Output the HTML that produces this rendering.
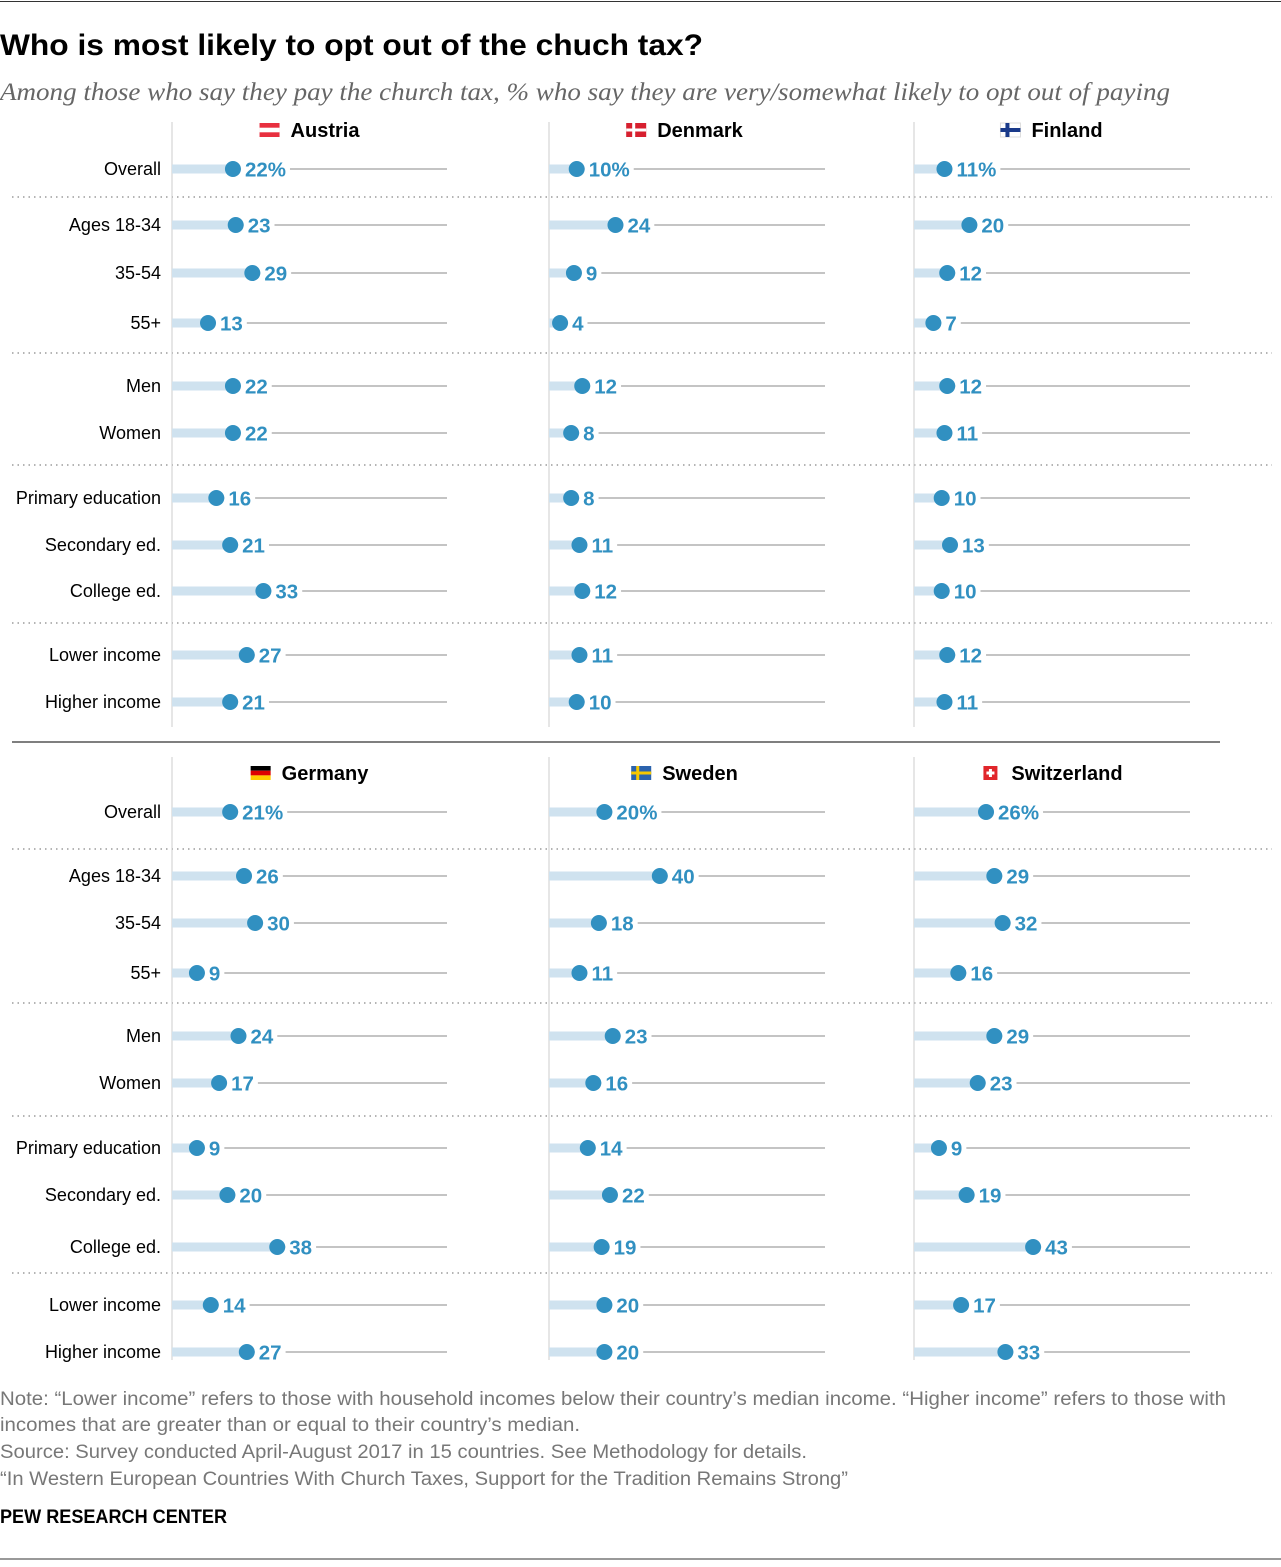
<!DOCTYPE html>
<html><head><meta charset="utf-8">
<style>
body{margin:0;background:#fff;width:1281px;height:1562px;overflow:hidden;font-family:"Liberation Sans",sans-serif;}
</style></head>
<body>
<svg id="chart" width="1281" height="1562" xmlns="http://www.w3.org/2000/svg" font-family="Liberation Sans, sans-serif">
<line x1="0" y1="1.5" x2="1281" y2="1.5" stroke="#333" stroke-width="1"/>
<text x="0" y="55" font-size="30" font-weight="bold" fill="#000" textLength="703" lengthAdjust="spacingAndGlyphs">Who is most likely to opt out of the chuch tax?</text>
<text x="0" y="100" font-size="25" font-style="italic" font-family="Liberation Serif, serif" fill="#666" textLength="1170" lengthAdjust="spacingAndGlyphs">Among those who say they pay the church tax, % who say they are very/somewhat likely to opt out of paying</text>
<g id="plot"></g>
<line x1="12" y1="742" x2="1220" y2="742" stroke="#555" stroke-width="1.5"/>
<g font-size="19" fill="#777">
<text x="0" y="1405" textLength="1226" lengthAdjust="spacingAndGlyphs">Note: “Lower income” refers to those with household incomes below their country’s median income. “Higher income” refers to those with</text>
<text x="0" y="1431" textLength="580" lengthAdjust="spacingAndGlyphs">incomes that are greater than or equal to their country’s median.</text>
<text x="0" y="1458" textLength="807" lengthAdjust="spacingAndGlyphs">Source: Survey conducted April-August 2017 in 15 countries. See Methodology for details.</text>
<text x="0" y="1485" textLength="848" lengthAdjust="spacingAndGlyphs">“In Western European Countries With Church Taxes, Support for the Tradition Remains Strong”</text>
</g>
<text x="0" y="1523" font-size="19" font-weight="bold" fill="#000" textLength="227" lengthAdjust="spacingAndGlyphs">PEW RESEARCH CENTER</text>
<line x1="0" y1="1559" x2="1281" y2="1559" stroke="#333" stroke-width="1"/>
</svg>
<script>
const categories=["Overall","Ages 18-34","35-54","55+","Men","Women","Primary education","Secondary ed.","College ed.","Lower income","Higher income"];
const countries=["Austria","Denmark","Finland","Germany","Sweden","Switzerland"];
const austria=[22,23,29,13,22,22,16,21,33,27,21];
const denmark=[10,24,9,4,12,8,8,11,12,11,10];
const finland=[11,20,12,7,12,11,10,13,10,12,11];
const germany=[21,26,30,9,24,17,9,20,38,14,27];
const sweden=[20,40,18,11,23,16,14,22,19,20,20];
const switzerland=[26,29,32,16,29,23,9,19,43,17,33];
const seriesList=[austria,denmark,finland,germany,sweden,switzerland];

const NS="http://www.w3.org/2000/svg";
const plot=document.getElementById('plot');
function mk(tag,attrs,parent){const e=document.createElementNS(NS,tag);for(const k in attrs)e.setAttribute(k,attrs[k]);(parent||plot).appendChild(e);return e;}
const panelX=[172,549,914];
const lineEnd=[447,825,1190];
const pxPer=2.77;
function xScale(p,v){return panelX[p]+v*pxPer;}
const rowsTop=[169,225,273,323,386,433,498,545,591,655,702];
const rowsBot=[812,876,923,973,1036,1083,1148,1195,1247,1305,1352];
const sepTop=[197,353,465,623], sepBot=[849,1003,1116,1273];
const titleY=[130,773];

function flag(g,name,x,y){
  if(name==="Austria"){mk('rect',{x:x,y:y,width:20,height:14,fill:'#e8303f'},g);mk('rect',{x:x,y:y+4.7,width:20,height:4.6,fill:'#fff'},g);}
  else if(name==="Denmark"){mk('rect',{x:x,y:y,width:20,height:14,fill:'#d7202f'},g);mk('rect',{x:x+6,y:y,width:3,height:14,fill:'#fff'},g);mk('rect',{x:x,y:y+5.5,width:20,height:3,fill:'#fff'},g);}
  else if(name==="Finland"){mk('rect',{x:x,y:y,width:20,height:14,fill:'#fff',stroke:'#ddd'},g);mk('rect',{x:x+5,y:y,width:4,height:14,fill:'#1a3a8a'},g);mk('rect',{x:x,y:y+5,width:20,height:4,fill:'#1a3a8a'},g);}
  else if(name==="Germany"){mk('rect',{x:x,y:y,width:20,height:4.7,fill:'#000'},g);mk('rect',{x:x,y:y+4.7,width:20,height:4.7,fill:'#d00'},g);mk('rect',{x:x,y:y+9.4,width:20,height:4.6,fill:'#fc0'},g);}
  else if(name==="Sweden"){mk('rect',{x:x,y:y,width:20,height:14,fill:'#2b63ad'},g);mk('rect',{x:x+5,y:y,width:3,height:14,fill:'#f6c800'},g);mk('rect',{x:x,y:y+5.5,width:20,height:3,fill:'#f6c800'},g);}
  else {mk('rect',{x:x+3,y:y,width:14,height:14,fill:'#e1262b'},g);mk('rect',{x:x+8.5,y:y+3,width:3,height:8,fill:'#fff'},g);mk('rect',{x:x+6,y:y+5.5,width:8,height:3,fill:'#fff'},g);}
}

for(let half=0;half<2;half++){
  const rows=half?rowsBot:rowsTop, seps=half?sepBot:sepTop;
  categories.forEach((c,i)=>{
    const t=mk('text',{x:161,y:rows[i]+6,'font-size':18,'text-anchor':'end',fill:'#000'});
    
    
    t.textContent=c;
  });
  seps.forEach(y=>{
    const l=mk('line',{x1:12,y1:y,x2:1272,y2:y,stroke:'#888','stroke-width':1.2,'stroke-dasharray':'1.5,4'});
    
    
  });
  for(let p=0;p<3;p++){
    const ci=half*3+p, name=countries[ci], vals=seriesList[ci];
    const g=mk('g',{});
    
    
    const y0=half?757:122, y1=half?1360:727;
    const ax=mk('line',{x1:panelX[p],y1:y0,x2:panelX[p],y2:y1,stroke:'#ccc','stroke-width':1},g);
    
    
    const cx=[325,700,1067][p];
    const tt=mk('text',{x:cx,y:titleY[half]+7,'font-size':20,'font-weight':'bold','text-anchor':'middle',fill:'#000'},g);
    
    
    tt.textContent=name;
    const w=tt.getComputedTextLength();
    flag(g,name,cx-w/2-31,titleY[half]-7);
    vals.forEach((v,i)=>{
      const y=rows[i], x=xScale(p,v);
      const gl=mk('line',{x1:panelX[p],y1:y,x2:lineEnd[p],y2:y,stroke:'#888','stroke-width':1},g);
      
      
      const bar=mk('rect',{x:panelX[p],y:y-4.5,width:Math.max(0,x-panelX[p]),height:9,fill:'#cfe2ef'},g);
      
      
      const lbl=v+(i===0?'%':'');
      const bg=mk('rect',{x:x+8,y:y-11,width:10,height:22,fill:'#fff'},g);
      
      
      const dot=mk('circle',{cx:x,cy:y,r:8,fill:'#3190c1'},g);
      
      
      const t=mk('text',{x:x+12,y:y+7.5,'font-size':20.5,'font-weight':'bold',fill:'#3190c1'},g);
      
      
      t.textContent=lbl;
      bg.setAttribute('width',t.getComputedTextLength()+8);
    });
  }
}
</script>
</body></html>
